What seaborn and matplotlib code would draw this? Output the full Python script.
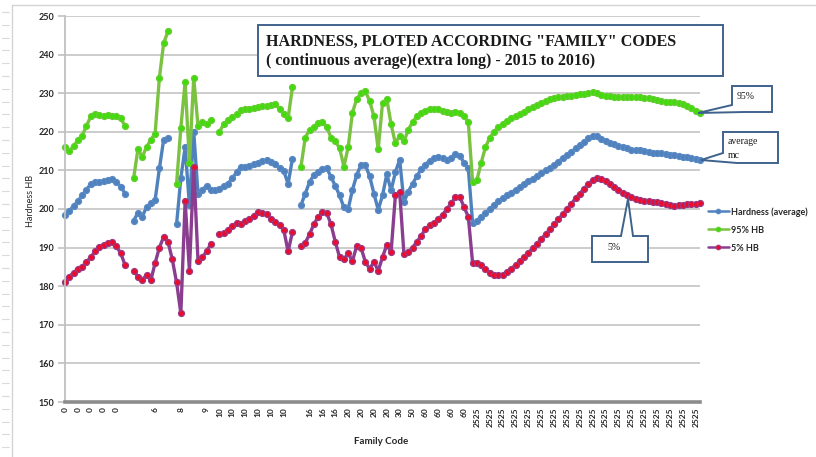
import numpy as np
import pandas as pd
import matplotlib
matplotlib.use("Agg")
import matplotlib.pyplot as plt
from matplotlib.lines import Line2D
from matplotlib.patches import Polygon
import seaborn as sns

nan = np.nan

# one value per row of the sheet (category axis), nan = empty cell -> gap in the line
hardness_avg = (
    [198.5, 199.5, 200.8, 202, 203.5, 205, 206.5, 207, 207, 207.2, 207.5, 207.8, 207, 205.8, 204]
    + [nan]
    + [197, 199, 198, 200.5, 201.5, 202.3, 210.5, 218, 218.5]
    + [nan]
    + [196, 208, 216, 201, 220, 204, 205, 206, 205]
    + [205, 205.3, 206, 206.6, 208, 209.5, 211, 211, 211.2, 211.6, 212, 212.4, 212.6, 212.2,
       211.6, 210.6, 209.8, 206.5, 213]
    + [nan]
    + [201, 204, 207, 208.8, 209.6, 210.3, 210.6, 208.3, 206, 203.5, 200.4, 200, 205, 208.8,
       211.5, 211.4, 208.5, 204, 199.8, 203.5, 209, 204.8, 209.5, 212.8, 201.8, 204.5, 206.5,
       208.5, 210.3, 211.5, 212.5, 213.2, 213.5, 213.2, 212.8, 213.3, 214.2, 213.8, 212, 210.5]
    + [196.5, 197, 198, 199, 200, 201, 202, 202.8, 203.5, 204.2, 205, 205.7, 206.4, 207.2,
       207.8, 208.5, 209.2, 210, 210.7, 211.5, 212.3, 213.2, 214, 214.8, 215.7, 216.5, 217.3,
       218.3, 219, 218.8, 218.2, 217.6, 217.2, 216.8, 216.4, 216, 215.7, 215.4, 215.3, 215.2,
       215.1, 214.8, 214.6, 214.5, 214.4, 214.3, 214.1, 214, 213.8, 213.6, 213.4, 213.2, 213, 212.8]
)

hb_95 = (
    [216, 215, 216.3, 217.8, 219, 221.5, 224, 224.5, 224.3, 224.2, 224.4, 224, 224.2, 223.5, 221.5]
    + [nan]
    + [208, 215.5, 213.5, 216, 218, 219.5, 234, 243, 246]
    + [nan]
    + [206.5, 221, 233, 212, 234, 221.5, 222.5, 222, 223]
    + [nan]
    + [220, 222, 223, 223.8, 224.5, 225.7, 225.8, 226, 226.2, 226.4, 226.6, 226.8, 227, 227.3,
       226, 224.5, 223.5, 231.5]
    + [nan]
    + [211, 218.5, 220.5, 221.3, 222.2, 222.6, 221.3, 218.5, 217.5, 215.8, 211, 216, 225, 228.5,
       230, 230.5, 228, 224, 215.5, 227.4, 228.5, 222, 217, 219, 217.5, 220.5, 222.5, 224, 225,
       225.5, 226, 226, 225.8, 225.5, 225.2, 225, 225.2, 224.8, 224, 222.5]
    + [207, 207.5, 212, 216, 218.5, 220, 221.2, 222, 222.8, 223.5, 224, 224.6, 225.2, 225.8,
       226.4, 227, 227.5, 228, 228.4, 228.8, 229, 229, 229.2, 229.3, 229.5, 229.7, 229.8, 230,
       230.2, 230, 229.6, 229.3, 229.2, 229, 228.9, 228.9, 229, 229, 229, 228.9, 228.8, 228.7,
       228.5, 228.2, 228, 227.8, 227.7, 227.6, 227.5, 227.2, 226.8, 226.2, 225.5, 225]
)

hb_5 = (
    [181, 182.5, 183.5, 184.5, 185, 186.3, 187.5, 189, 190.2, 190.8, 191.2, 191.5, 190.3, 188.5, 185.5]
    + [nan]
    + [184, 182.5, 181.5, 183, 181.5, 186, 190, 192.8, 191.5, 187, 181, 173, 202, 184, 211,
       186.5, 187.5, 189, 191]
    + [nan]
    + [193.5, 193.8, 194.5, 195.5, 196.5, 196.2, 196.8, 197.3, 198.3, 199.2, 199, 198.6, 197.4,
       196.6, 195.8, 194.5, 189, 194]
    + [nan]
    + [190.4, 191.2, 193.5, 196, 198, 199.1, 199, 196, 191.5, 187.5, 187, 188.5, 186.5, 190.5,
       190, 186.3, 184.5, 186.3, 184, 187.5, 190.7, 188.8, 203.5, 204.5, 188.3, 188.8, 190,
       191.5, 193, 194.8, 195.8, 196.3, 197.3, 198.5, 200, 201.5, 203, 203.2, 200.5, 198]
    + [186, 186, 185.5, 184.5, 183.5, 183, 182.8, 183, 183.6, 184.5, 185.5, 186.5, 187.5, 188.7,
       189.8, 191, 192.2, 193.5, 194.7, 196, 197.3, 198.7, 200, 201.3, 202.8, 204, 205.3, 206.5,
       207.5, 208, 207.8, 207.2, 206.5, 205.8, 205, 204.2, 203.5, 203, 202.6, 202.3, 202.1, 202,
       201.9, 201.8, 201.6, 201.3, 201, 200.9, 201, 201.1, 201.2, 201.3, 201.3, 201.6]
)

# label shown on every 3rd row
family_labels = (["0"] * 5 + ["", "", "6", "", "8", "", "9"] + ["10"] * 6 + [""]
                 + ["16"] * 3 + ["20"] * 4 + ["30", "50"] + ["60"] * 4 + ["2525"] * 18)
label_step = 3

W, H = 816, 457


def fig_xy(x, y):
    return (x / W, 1 - y / H)


def long_form(values):
    df = pd.DataFrame({"row": np.arange(len(values)), "HB": values})
    df["seg"] = df["HB"].isna().cumsum()
    return df.dropna()


sns.set_theme(style="white")
plt.rcParams["font.family"] = ["Lato", "DejaVu Sans"]

fig = plt.figure(figsize=(W / 100, H / 100), dpi=100)
ax = fig.add_axes([65 / W, 1 - 402 / H, (700 - 65) / W, (402 - 16) / H])

styles = [
    (hardness_avg, "Hardness (average)",
     dict(color="#4F81BD", marker="o", markerfacecolor="#4F81BD", markeredgecolor="#5A8AC6")),
    (hb_95, "95% HB",
     dict(color="#7CC242", marker="o", markerfacecolor="#3FDC0A", markeredgecolor="#66CC33")),
    (hb_5, "5% HB",
     dict(color="#8B3E90", marker="o", markerfacecolor="#EE0A28", markeredgecolor="#9A3A85")),
]

handles = []
for values, name, st in styles:
    sns.lineplot(data=long_form(values), x="row", y="HB", units="seg", estimator=None,
                 ax=ax, legend=False, linewidth=2.4, markersize=4.3, markeredgewidth=0.9,
                 clip_on=False, **st)
    handles.append(Line2D([], [], linewidth=1.8, markersize=3.5, markeredgewidth=0.6, **st))

n_rows = len(hardness_avg)
ax.set_xlim(0, n_rows - 1)
ax.set_ylim(150, 250)
ax.set_yticks(np.arange(150, 251, 10))
ax.set_xticks(np.arange(0, len(family_labels) * label_step, label_step))
ax.set_xticklabels(family_labels, rotation=90, fontsize=6, fontweight="bold", color="#262626")
for t in ax.get_yticklabels():
    t.set_fontweight("bold")
ax.tick_params(axis="y", length=5, width=1.2, color="#c0c0c0", labelsize=6.5,
               pad=3, labelcolor="#262626", left=True)
ax.tick_params(axis="x", length=0, pad=4)
ax.grid(axis="y", color="#c8c8c8", linewidth=1.3)
ax.grid(axis="x", visible=False)
for side in ["top", "right"]:
    ax.spines[side].set_visible(False)
ax.spines["left"].set_color("#c0c0c0")
ax.spines["left"].set_linewidth(1.3)
ax.spines["bottom"].set_color("#8c8c8c")
ax.spines["bottom"].set_linewidth(2.6)
ax.set_xlabel("")
ax.set_ylabel("")

fig.text(*fig_xy(31, 201), "Hardness HB", rotation=90, ha="center", va="center",
         fontsize=6.5, color="#262626")
fig.text(*fig_xy(381, 441), "Family Code", ha="center", va="center",
         fontsize=7, fontweight="bold", color="#262626")

fig.legend(handles, [s[1] for s in styles], loc="upper left",
           bbox_to_anchor=fig_xy(708, 207), frameon=False,
           prop={"size": 6.5, "weight": "bold"}, labelcolor="#262626",
           handlelength=2.3, handletextpad=0.3, labelspacing=1.0,
           borderpad=0, borderaxespad=0)

# sheet border and row marks at the left
fig.add_artist(Line2D([12 / W, 12 / W], [0, 1 - 5 / H], transform=fig.transFigure,
                      color="#d4d4d4", lw=1))
fig.add_artist(Line2D([12 / W, 1], [1 - 5 / H, 1 - 5 / H], transform=fig.transFigure,
                      color="#d4d4d4", lw=1))
for yy in np.arange(12, 455, 12.8):
    fig.add_artist(Line2D([2 / W, 9 / W], [1 - yy / H] * 2, transform=fig.transFigure,
                          color="#dadada", lw=0.8))

box_kw = dict(transform=fig.transFigure, facecolor="white", edgecolor="#3F628C",
              linewidth=1.4, closed=True)

# title box
fig.add_artist(Polygon([fig_xy(258, 25), fig_xy(723, 25), fig_xy(723, 76), fig_xy(258, 76)],
                       **box_kw))
serif = ["Liberation Serif", "DejaVu Serif"]
fig.text(*fig_xy(266, 42), 'HARDNESS, PLOTED ACCORDING "FAMILY" CODES',
         family=serif, fontweight="bold", fontsize=11.6, va="center", color="#1a1a1a")
fig.text(*fig_xy(266, 61), "( continuous average)(extra long) - 2015 to 2016)",
         family=serif, fontweight="bold", fontsize=11.4, va="center", color="#1a1a1a")

# callouts
fig.add_artist(Polygon([fig_xy(732, 86), fig_xy(772, 86), fig_xy(772, 112), fig_xy(744, 112),
                        fig_xy(698, 113), fig_xy(732, 105)], **box_kw))
fig.text(*fig_xy(737, 96.5), "95%", family=serif, fontsize=7, va="center", color="#1a1a1a")

fig.add_artist(Polygon([fig_xy(723, 132), fig_xy(778, 132), fig_xy(778, 163), fig_xy(737, 163),
                        fig_xy(701, 160), fig_xy(723, 153)], **box_kw))
fig.text(*fig_xy(728, 142), "average", family=serif, fontsize=7, va="center", color="#1a1a1a")
fig.text(*fig_xy(728, 155), "mc", family=serif, fontsize=7, va="center", color="#1a1a1a")

fig.add_artist(Polygon([fig_xy(592, 236), fig_xy(621, 236), fig_xy(628, 199), fig_xy(633, 236),
                        fig_xy(648, 236), fig_xy(648, 262), fig_xy(592, 262)], **box_kw))
fig.text(*fig_xy(607, 248), "5%", family=serif, fontsize=7, va="center", color="#1a1a1a")

fig.savefig("out.png", dpi=100, facecolor="white")
